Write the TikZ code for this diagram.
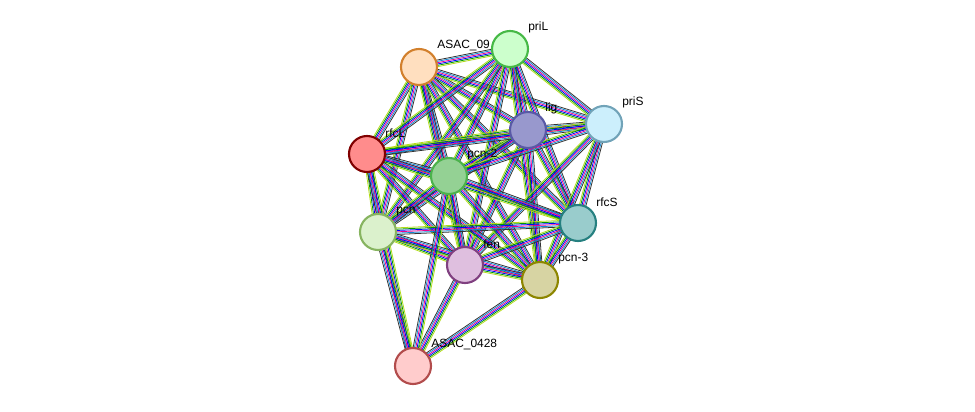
\documentclass[tikz,border=0pt]{standalone}
\usepackage{fontspec}
\setmainfont{Liberation Sans}
\usetikzlibrary{calc}
\pgfdeclarelayer{bg}\pgfsetlayers{bg,main}
\newcommand\stredge[2]{%
  \foreach \c [count=\i] in {yellow!70!green,green!60!black,blue,magenta,cyan!70!blue,black!80}{%
    \pgfmathsetmacro\off{(\i-3.5)*0.75}%
    \draw[\c,line width=0.45pt] ($(#1)!\off pt!90:(#2)$) -- ($(#2)!\off pt!-90:(#1)$);}}
\begin{document}
\begin{tikzpicture}[x=0.02cm,y=-0.02cm,
  prot/.style={circle,minimum size=0.72cm,inner sep=0pt,line width=1.2pt},
  lab/.style={font=\fontsize{6.8}{8}\selectfont,anchor=south west,inner sep=0pt}]
\useasboundingbox (0,0) rectangle (975,412);
\node[prot,fill=orange!25,draw=brown!70!orange] (asac9) at (419,67) {};
\node[prot,fill=green!20,draw=green!45!gray] (priL) at (510,49) {};
\node[prot,fill=blue!35!gray!60,draw=blue!30!gray] (lig) at (528,130) {};
\node[prot,fill=cyan!20,draw=cyan!40!gray] (priS) at (604,124) {};
\node[prot,fill=red!45,draw=red!50!black] (rfcL) at (367,154) {};
\node[prot,fill=green!40!gray!60,draw=green!40!gray] (pcn2) at (449,176) {};
\node[prot,fill=teal!40,draw=teal!70!gray] (rfcS) at (578,223) {};
\node[prot,fill=yellow!30!green!20,draw=yellow!40!green!60!gray] (pcn) at (378,232) {};
\node[prot,fill=violet!25,draw=violet!50!gray] (fen) at (465,265) {};
\node[prot,fill=yellow!40!gray!60,draw=olive] (pcn3) at (540,280) {};
\node[prot,fill=red!20,draw=red!40!gray] (a428) at (413,366) {};
\begin{pgfonlayer}{bg}
\foreach \a/\b in {asac9/priL,asac9/lig,asac9/priS,asac9/rfcL,asac9/pcn2,asac9/rfcS,asac9/pcn,asac9/fen,asac9/pcn3,
 priL/lig,priL/priS,priL/rfcL,priL/pcn2,priL/rfcS,priL/pcn,priL/fen,priL/pcn3,
 lig/priS,lig/rfcL,lig/pcn2,lig/rfcS,lig/pcn,lig/fen,lig/pcn3,
 priS/rfcL,priS/pcn2,priS/rfcS,priS/fen,priS/pcn3,
 rfcL/pcn2,rfcL/rfcS,rfcL/pcn,rfcL/fen,rfcL/pcn3,
 pcn2/rfcS,pcn2/pcn,pcn2/fen,pcn2/pcn3,
 rfcS/pcn,rfcS/fen,rfcS/pcn3,pcn/fen,pcn/pcn3,fen/pcn3,
 a428/rfcL,a428/pcn,a428/fen,a428/pcn3,a428/pcn2}{\stredge{\a}{\b}}
\end{pgfonlayer}
\node[lab] at (437,51) {ASAC\_09};
\node[lab] at (528,33) {priL};
\node[lab] at (545,114) {lig};
\node[lab] at (622,108) {priS};
\node[lab] at (385,138) {rfcL};
\node[lab] at (467,160) {pcn-2};
\node[lab] at (596,207) {rfcS};
\node[lab] at (396,216) {pcn};
\node[lab] at (483,249) {fen};
\node[lab] at (558,264) {pcn-3};
\node[lab] at (431,350) {ASAC\_0428};
\end{tikzpicture}
\end{document}
